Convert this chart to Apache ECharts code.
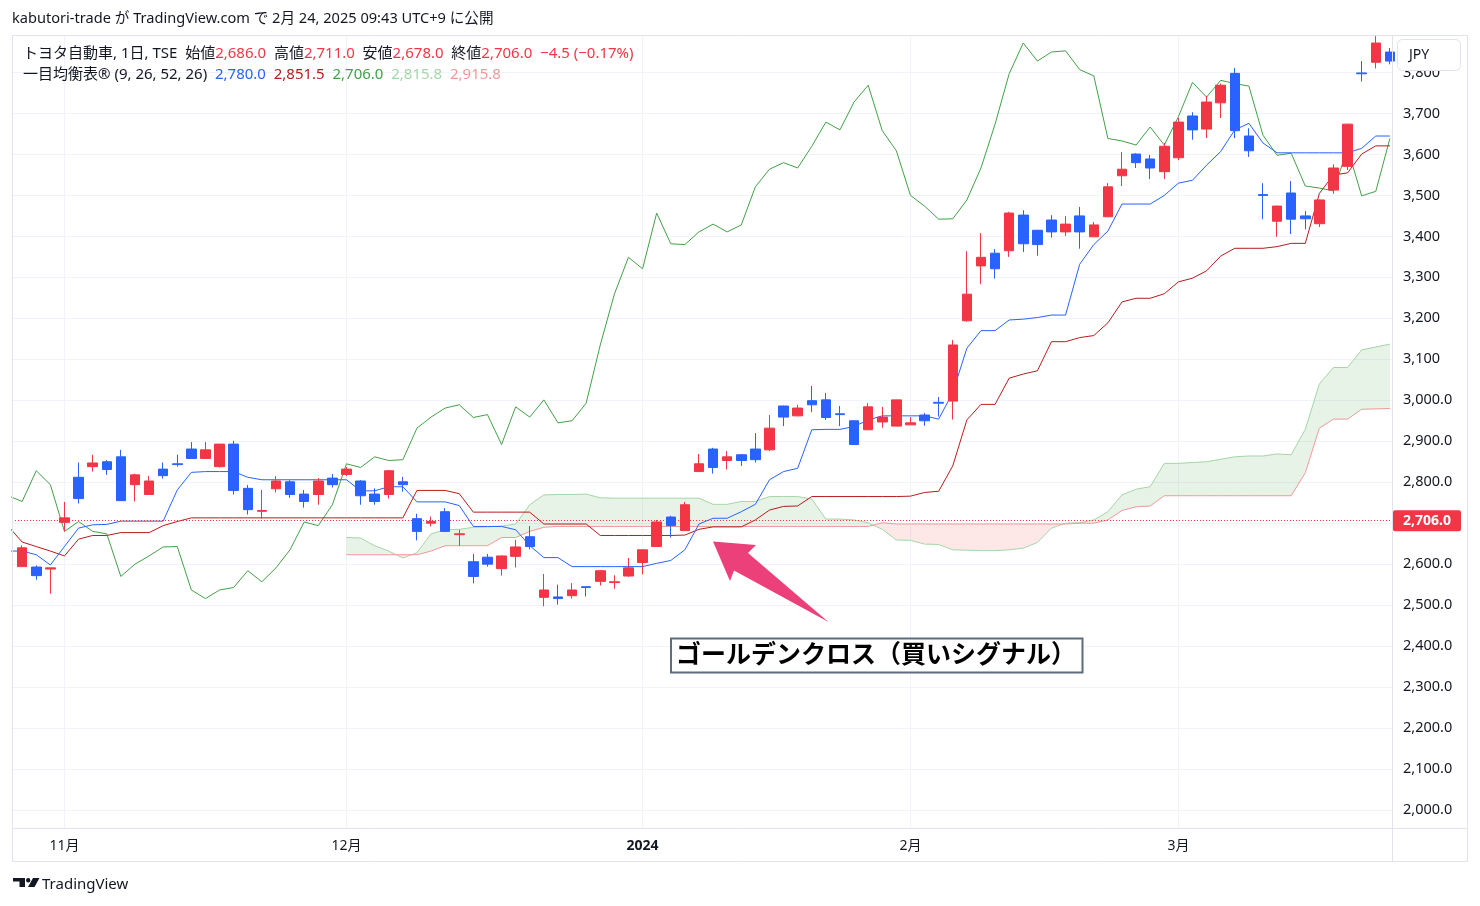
<!DOCTYPE html>
<html>
<head>
<meta charset="utf-8">
<script src="https://cdn.jsdelivr.net/npm/echarts@6/dist/echarts.min.js"></script>
<style>
html,body{margin:0;padding:0;background:#ffffff;}
#c{width:1480px;height:906px;}
</style>
</head>
<body>
<div id="c"></div>
<script>
// ---------------- DATA ----------------
const dates = [
 '2023-10-27','2023-10-30','2023-10-31',
 '2023-11-01','2023-11-02','2023-11-06','2023-11-07','2023-11-08','2023-11-09','2023-11-10','2023-11-13','2023-11-14','2023-11-15',
 '2023-11-16','2023-11-17','2023-11-20','2023-11-21','2023-11-22','2023-11-24','2023-11-27','2023-11-28','2023-11-29','2023-11-30',
 '2023-12-01','2023-12-04','2023-12-05','2023-12-06','2023-12-07','2023-12-08','2023-12-11','2023-12-12','2023-12-13','2023-12-14',
 '2023-12-15','2023-12-18','2023-12-19','2023-12-20','2023-12-21','2023-12-22','2023-12-25','2023-12-26','2023-12-27','2023-12-28','2023-12-29',
 '2024-01-04','2024-01-05','2024-01-09','2024-01-10','2024-01-11','2024-01-12','2024-01-15','2024-01-16','2024-01-17','2024-01-18',
 '2024-01-19','2024-01-22','2024-01-23','2024-01-24','2024-01-25','2024-01-26','2024-01-29','2024-01-30','2024-01-31',
 '2024-02-01','2024-02-02','2024-02-05','2024-02-06','2024-02-07','2024-02-08','2024-02-09','2024-02-13','2024-02-14','2024-02-15',
 '2024-02-16','2024-02-19','2024-02-20','2024-02-21','2024-02-22','2024-02-26','2024-02-27','2024-02-28','2024-02-29',
 '2024-03-01','2024-03-04','2024-03-05','2024-03-06','2024-03-07','2024-03-08','2024-03-11','2024-03-12','2024-03-13','2024-03-14',
 '2024-03-15','2024-03-18','2024-03-19','2024-03-21','2024-03-22','2024-03-25'
];
const opens = [
 2594,2593,2588,2702,2812,2838,2850,2862,2794,2770,2832,2845,2881,2858,2838,2893,2785,2729,2784,2801,
 2771,2770,2810,2819,2803,2771,2770,2801,2711,2700,2728,2672,2606,2617,2589,2619,2667,2519,2520,2523,
 2545,2558,2555,2571,2604,2643,2715,2682,2826,2881,2853,2867,2881,2879,2986,2962,2999,3001,2967,2950,
 2928,2947,2937,2940,2964,2995,2998,3194,3328,3359,3365,3452,3415,3440,3411,3450,3399,3448,3548,3601,
 3589,3558,3592,3694,3662,3726,3798,3645,3502,3437,3506,3450,3431,3513,3571,3799,3825,3850
];
const highs = [
 2646,2597,2591,2752,2848,2867,2854,2879,2821,2815,2848,2867,2898,2898,2893,2901,2793,2781,2815,2805,
 2781,2810,2820,2837,2805,2785,2830,2813,2723,2716,2737,2684,2625,2625,2621,2659,2693,2576,2550,2554,
 2545,2585,2573,2615,2636,2708,2718,2752,2869,2884,2876,2869,2920,2964,2987,2989,3035,3018,2986,2951,
 2993,2984,3001,2959,2969,3008,3147,3364,3408,3369,3460,3464,3416,3452,3450,3472,3435,3530,3606,3603,
 3599,3628,3689,3703,3743,3773,3811,3664,3530,3475,3535,3462,3490,3576,3675,3828,3889,3860
];
const lows = [
 2594,2562,2528,2680,2748,2826,2818,2755,2753,2770,2809,2838,2858,2858,2836,2770,2721,2711,2775,2762,
 2738,2745,2787,2815,2745,2745,2760,2777,2658,2692,2680,2645,2553,2594,2572,2592,2636,2497,2501,2516,
 2521,2548,2540,2569,2575,2643,2665,2682,2826,2821,2831,2840,2848,2876,2937,2961,2971,2952,2937,2891,
 2928,2933,2937,2940,2938,2960,2953,3192,3284,3297,3350,3362,3353,3397,3401,3370,3399,3447,3523,3567,
 3540,3540,3586,3636,3640,3689,3640,3594,3442,3399,3406,3417,3423,3504,3562,3778,3810,3820
];
const closes = [
 2640,2572,2591,2713,2760,2847,2831,2755,2818,2803,2816,2843,2858,2879,2893,2780,2733,2731,2803,2770,
 2753,2803,2794,2832,2767,2753,2828,2794,2680,2704,2680,2674,2570,2600,2620,2642,2643,2537,2516,2537,
 2543,2584,2557,2591,2635,2703,2694,2745,2845,2836,2862,2853,2855,2932,2959,2981,2989,2958,2965,2892,
 2984,2959,3001,2945,2950,2993,3135,3259,3349,3321,3457,3382,3380,3411,3430,3411,3428,3521,3564,3580,
 3567,3620,3679,3660,3728,3769,3658,3609,3500,3474,3442,3443,3489,3567,3674,3797,3872,3828
];
// closes of the 25 sessions after the last visible one (seen only through the lagging span)
const laterCloses = [
 3850,3853,3807,3792,3639,3633,3623,3667,3623,3692,3776,3740,3781,3773,3767,3647,3598,3603,3523,3518,
 3511,3615,3499,3510,3639
];
// Ichimoku lines, first value = session before 2023-10-27 (index -1)
const lineStartIndex = -1;
const tenkan = [
 2632,
 2632,2623,2598,2643,2688,2696,2697,2705,2705,2705,2705,2781,2824,2826,2826,2826,2812,2806,2806,2806,
 2806,2806,2806,2806,2779,2779,2789,2789,2752,2752,2752,2743,2692,2692,2692,2684,2645,2616,2616,2594,
 2594,2594,2594,2594,2594,2602,2609,2635,2698,2712,2712,2728,2746,2806,2826,2834,2928,2929,2929,2936,
 2952,2962,2962,2962,2962,2954,3019,3127,3170,3170,3196,3198,3202,3208,3208,3332,3380,3413,3479,3479,
 3479,3500,3530,3537,3574,3607,3660,3676,3628,3604,3604,3604,3604,3604,3604,3615,3645,3645
];
const kijun = [
 2693,
 2654,2643,2632,2620,2661,2670,2670,2677,2677,2677,2694,2704,2713,2713,2713,2713,2713,2713,2713,2713,
 2713,2713,2713,2713,2713,2713,2713,2713,2780,2780,2780,2772,2727,2727,2727,2727,2727,2698,2698,2698,
 2698,2670,2670,2670,2670,2670,2670,2671,2685,2691,2691,2691,2708,2732,2741,2742,2765,2765,2765,2765,
 2765,2765,2765,2766,2775,2778,2840,2952,2990,2990,3054,3064,3072,3143,3143,3153,3158,3189,3240,3249,
 3249,3260,3289,3298,3316,3352,3371,3371,3371,3375,3383,3383,3505,3550,3555,3601,3621,3621
];
const laggingShift = 25;
const cloudStartIndex = 23;
const senkouA = [
 2665,2664,2645,2632,2615,2628,2674,
 2684,2685,2690,2691,2693,2698,2745,2769,2770,2770,
 2771,2762,2761,2761,2761,2761,2761,2761,2761,2746,
 2746,2753,2753,2765,2765,2765,2759,2710,2710,2708,
 2701,2685,2659,2658,2649,2648,2635,2634,2633,2633,
 2635,2639,2653,2688,2700,2701,2708,2728,2769,2783,
 2789,2846,2846,2848,2850,2856,2862,2864,2864,2869,
 2867,2929,3040,3080,3080,3123,3130,3137
];
const senkouB = [
 2623,2623,2623,2623,2623,2623,2632,
 2645,2645,2645,2645,2665,2665,2680,2690,2692,2692,
 2692,2692,2692,2692,2692,2692,2692,2692,2692,2692,
 2692,2692,2692,2692,2692,2692,2692,2692,2692,2692,
 2692,2701,2698,2698,2698,2698,2698,2698,2698,2698,
 2698,2698,2698,2698,2698,2700,2700,2708,2731,2740,
 2742,2767,2767,2767,2767,2767,2767,2767,2767,2767,
 2767,2823,2932,2954,2954,2978,2979,2980
];
const lastPrice = 2706.0;
const headerText = 'kabutori-trade が TradingView.com で 2月 24, 2025 09:43 UTC+9 に公開';
const symbolText = 'トヨタ自動車, 1日, TSE';
const ohlcNames = ['始値', '高値', '安値', '終値'];
const ohlcValues = ['2,686.0', '2,711.0', '2,678.0', '2,706.0'];
const changeText = '−4.5 (−0.17%)';
const ichimokuName = '一目均衡表® (9, 26, 52, 26)';
const ichimokuValues = ['2,780.0', '2,851.5', '2,706.0', '2,815.8', '2,915.8'];
const annotationText = 'ゴールデンクロス（買いシグナル）';
const currencyText = 'JPY';

// ---------------- STYLE ----------------
const FONT = "'Noto Sans', 'Noto Sans CJK JP', sans-serif";
const TXT = '#131722';
const UP = '#F23645', DOWN = '#2962FF';
const C_TENKAN = '#2962FF', C_KIJUN = '#B71C1C', C_LAG = '#43A047', C_A = '#A5D6A7', C_B = '#EF9A9A';
const FILL_UP = 'rgba(67,160,71,0.13)', FILL_DN = 'rgba(244,67,54,0.12)';
const BORDER = '#E0E3EB', GRID = '#F0F3FA';
const LEG_FS = 15;

const xMin = -0.72, xMax = 97.15;
const yMin = 1956, yMax = 3891.6;

// month label positions from the dates
const monthIdx = [];
for (let i = 1; i < dates.length; i++) {
  if (dates[i].slice(5, 7) !== dates[i - 1].slice(5, 7)) monthIdx.push(i);
}
function monthLabel(i) {
  const m = parseInt(dates[i].slice(5, 7), 10);
  if (m === 1) return '{b|' + dates[i].slice(0, 4) + '}';
  return m + '月';
}
function fmtPrice(v) {
  const s = Math.round(v).toLocaleString('en-US');
  return v >= 3100 ? s : s + '.0';
}

// ---------------- SERIES DATA ----------------
const candleData = dates.map((d, i) => [i, opens[i], closes[i], lows[i], highs[i]]);
const tenkanData = tenkan.map((v, k) => [k + lineStartIndex, v]);
const kijunData = kijun.map((v, k) => [k + lineStartIndex, v]);
const allCloses = closes.concat(laterCloses);
const lagData = [];
for (let i = lineStartIndex; i + laggingShift < allCloses.length; i++) {
  if (i > dates.length - 1) break;
  lagData.push([i, allCloses[i + laggingShift]]);
}
const aData = senkouA.map((v, k) => [k + cloudStartIndex, v]);
const bData = senkouB.map((v, k) => [k + cloudStartIndex, v]);
const cloudData = [];
for (let k = 0; k < senkouA.length - 1; k++) {
  cloudData.push([k + cloudStartIndex, senkouA[k], senkouB[k], senkouA[k + 1], senkouB[k + 1]]);
}

function renderCloud(params, api) {
  const i = api.value(0);
  const a0 = api.value(1), b0 = api.value(2), a1 = api.value(3), b1 = api.value(4);
  const d0 = a0 - b0, d1 = a1 - b1;
  const pt = (x, v) => api.coord([x, v]);
  const children = [];
  if (d0 * d1 >= 0) {
    const col = (d0 + d1) >= 0 ? FILL_UP : FILL_DN;
    children.push({ type: 'polygon', shape: { points: [pt(i, a0), pt(i + 1, a1), pt(i + 1, b1), pt(i, b0)] }, style: { fill: col } });
  } else {
    const t = d0 / (d0 - d1);
    const xc = i + t, vc = a0 + (a1 - a0) * t;
    children.push({ type: 'polygon', shape: { points: [pt(i, a0), pt(xc, vc), pt(i, b0)] }, style: { fill: d0 > 0 ? FILL_UP : FILL_DN } });
    children.push({ type: 'polygon', shape: { points: [pt(xc, vc), pt(i + 1, a1), pt(i + 1, b1)] }, style: { fill: d1 > 0 ? FILL_UP : FILL_DN } });
  }
  return { type: 'group', children: children };
}

function lineSeries(name, data, color, z) {
  return {
    name: name, type: 'line', data: data, showSymbol: false, symbol: 'none',
    lineStyle: { color: color, width: 1 }, itemStyle: { color: color },
    z: z, silent: true, clip: true, animation: false
  };
}

// ---------------- CHART ----------------
const chart = echarts.init(document.getElementById('c'));

const legendLine1 = '{d|' + symbolText + '  }' +
  ohlcNames.map((n, k) => '{d|' + n + '}{r|' + ohlcValues[k] + '}').join('{d|  }') +
  '{d|  }{r|' + changeText + '}';
const legendLine2 = '{d|' + ichimokuName + '  }' +
  '{t|' + ichimokuValues[0] + '}{d|  }{k|' + ichimokuValues[1] + '}{d|  }{g|' + ichimokuValues[2] +
  '}{d|  }{la|' + ichimokuValues[3] + '}{d|  }{lb|' + ichimokuValues[4] + '}';
const legendRich = {
  d: { fill: TXT, fontSize: LEG_FS, fontFamily: FONT },
  r: { fill: UP, fontSize: LEG_FS, fontFamily: FONT },
  t: { fill: C_TENKAN, fontSize: LEG_FS, fontFamily: FONT },
  k: { fill: C_KIJUN, fontSize: LEG_FS, fontFamily: FONT },
  g: { fill: C_LAG, fontSize: LEG_FS, fontFamily: FONT },
  la: { fill: C_A, fontSize: LEG_FS, fontFamily: FONT },
  lb: { fill: C_B, fontSize: LEG_FS, fontFamily: FONT }
};

const staticGraphics = [
  // header
  { type: 'text', z: 50, x: 12, y: 19, style: { text: headerText, fill: TXT, font: '14.6px ' + FONT, verticalAlign: 'middle', textAlign: 'left' } },
  // frame
  { type: 'line', z: 40, shape: { x1: 12, y1: 35.5, x2: 1467, y2: 35.5 }, style: { stroke: BORDER, lineWidth: 1 } },
  { type: 'line', z: 40, shape: { x1: 12, y1: 861.5, x2: 1467, y2: 861.5 }, style: { stroke: BORDER, lineWidth: 1 } },
  { type: 'line', z: 40, shape: { x1: 12.5, y1: 35, x2: 12.5, y2: 862 }, style: { stroke: BORDER, lineWidth: 1 } },
  { type: 'line', z: 40, shape: { x1: 1467.5, y1: 35, x2: 1467.5, y2: 862 }, style: { stroke: BORDER, lineWidth: 1 } },
  { type: 'line', z: 40, shape: { x1: 1392.5, y1: 35, x2: 1392.5, y2: 862 }, style: { stroke: BORDER, lineWidth: 1 } },
  { type: 'line', z: 40, shape: { x1: 12, y1: 828.5, x2: 1467, y2: 828.5 }, style: { stroke: BORDER, lineWidth: 1 } },
  // legend
  { type: 'text', z: 50, x: 23, y: 53.5, style: { text: legendLine1, rich: legendRich, font: LEG_FS + 'px ' + FONT, verticalAlign: 'middle', textAlign: 'left' } },
  { type: 'text', z: 50, x: 23, y: 74.5, style: { text: legendLine2, rich: legendRich, font: LEG_FS + 'px ' + FONT, verticalAlign: 'middle', textAlign: 'left' } },
  // currency box
  { type: 'rect', z: 60, shape: { x: 1397.5, y: 39.5, width: 63, height: 31, r: 5 }, style: { fill: '#ffffff', stroke: BORDER, lineWidth: 1 } },
  { type: 'text', z: 61, x: 1409, y: 55, style: { text: currencyText, fill: TXT, font: '14px ' + FONT, verticalAlign: 'middle', textAlign: 'left' } },
  // annotation box
  { type: 'rect', z: 60, shape: { x: 671, y: 638.5, width: 411.5, height: 34 }, style: { fill: '#ffffff', stroke: '#5D6D7E', lineWidth: 2 } },
  { type: 'text', z: 61, x: 676, y: 656, style: { text: annotationText, fill: '#000000', font: 'bold 25px ' + FONT, verticalAlign: 'middle', textAlign: 'left' } },
  // arrow
  { type: 'polygon', z: 60, shape: { points: [[713, 541.5], [756, 545], [748, 553], [828.5, 622], [734, 570.5], [730, 581]] }, style: { fill: '#EC407A' } },
  // TradingView logo
  { type: 'polygon', z: 60, shape: { points: [[13, 878], [25, 878], [25, 887], [19.5, 887], [19.5, 881.5], [13, 881.5]] }, style: { fill: TXT } },
  { type: 'circle', z: 60, shape: { cx: 28.2, cy: 880.2, r: 2.2 }, style: { fill: TXT } },
  { type: 'polygon', z: 60, shape: { points: [[33, 878], [39.5, 878], [34.5, 887], [28, 887]] }, style: { fill: TXT } },
  { type: 'text', z: 60, x: 42, y: 885, style: { text: 'TradingView', fill: TXT, font: '15px ' + FONT, verticalAlign: 'middle', textAlign: 'left' } }
];

const option = {
  animation: false,
  backgroundColor: '#ffffff',
  textStyle: { fontFamily: FONT },
  grid: { left: 12, right: 88, top: 35, bottom: 78, containLabel: false },
  xAxis: {
    type: 'value', min: xMin, max: xMax,
    axisLine: { show: false },
    axisTick: { show: false, customValues: monthIdx },
    axisLabel: {
      customValues: monthIdx, formatter: (v) => monthLabel(Math.round(v)),
      color: TXT, fontSize: 14, fontFamily: FONT, margin: 11,
      rich: { b: { fontWeight: 'bold', fontSize: 14, color: TXT, fontFamily: FONT } }
    },
    splitLine: { show: true, lineStyle: { color: GRID, width: 1 } }
  },
  yAxis: {
    type: 'value', position: 'right', min: yMin, max: yMax, splitNumber: 19,
    minInterval: 100, maxInterval: 100,
    axisLine: { show: false }, axisTick: { show: false },
    axisLabel: {
      showMinLabel: false, showMaxLabel: false, margin: 11, color: TXT, fontSize: 14.5, fontFamily: FONT,
      formatter: (v) => (Math.abs(v % 100) < 1e-6 ? fmtPrice(v) : '')
    },
    splitLine: { show: true, lineStyle: { color: GRID, width: 1 } }
  },
  series: [
    {
      name: 'cloud', type: 'custom', renderItem: renderCloud, data: cloudData,
      encode: { x: 0, y: [1, 2] }, z: 1, silent: true, clip: true
    },
    lineSeries('senkouA', aData, C_A, 2),
    lineSeries('senkouB', bData, C_B, 2),
    lineSeries('lagging', lagData, C_LAG, 3),
    lineSeries('kijun', kijunData, C_KIJUN, 3),
    lineSeries('tenkan', tenkanData, C_TENKAN, 3),
    {
      name: 'price', type: 'candlestick', data: candleData, encode: { x: 0, y: [1, 2, 3, 4] },
      barWidth: 10, z: 5, silent: true, clip: true,
      itemStyle: { color: UP, color0: DOWN, borderColor: UP, borderColor0: DOWN, borderWidth: 1 },
      markLine: {
        silent: true, symbol: ['none', 'none'], animation: false,
        label: { show: false },
        lineStyle: { color: UP, width: 1, type: [1, 2] },
        data: [{ yAxis: lastPrice }]
      }
    }
  ],
  graphic: staticGraphics
};
chart.setOption(option);

// price tag anchored to the last price on the y scale
const py = chart.convertToPixel({ yAxisIndex: 0 }, lastPrice);
chart.setOption({
  graphic: staticGraphics.concat([
    { type: 'rect', z: 70, shape: { x: 1393, y: py - 10.5, width: 68, height: 21, r: 2 }, style: { fill: UP } },
    { type: 'text', z: 71, x: 1403, y: py, style: { text: fmtPrice(lastPrice), fill: '#ffffff', font: 'bold 14px ' + FONT, verticalAlign: 'middle', textAlign: 'left' } }
  ])
}, { replaceMerge: ['graphic'] });
</script>
</body>
</html>
